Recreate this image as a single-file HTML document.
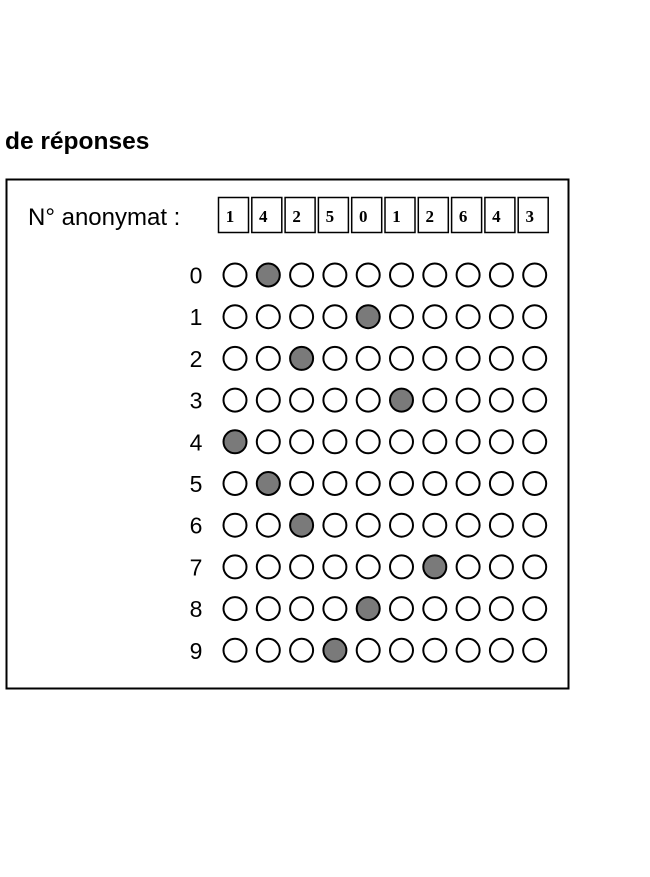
<!DOCTYPE html>
<html><head><meta charset="utf-8"><style>
html,body{margin:0;padding:0;background:#fff;width:650px;height:877px;overflow:hidden}
svg{display:block}
</style></head><body>
<svg id="sheet" width="650" height="877" xmlns="http://www.w3.org/2000/svg" font-family="Liberation Sans, sans-serif">
<text x="5" y="149" font-size="24.5" font-weight="bold" fill="#000">de réponses</text>
<rect x="6.5" y="179.5" width="562" height="509" fill="none" stroke="#000" stroke-width="2"/>
<text x="28" y="225" font-size="24" fill="#000">N° anonymat :</text>
<g id="boxes"></g>
<g id="grid"></g>
</svg>
<script>
const digits = [1,4,2,5,0,1,2,6,4,3];
const filledCols = [1,4,2,5,0,1,2,6,4,3];
const rowLabels = ['0','1','2','3','4','5','6','7','8','9'];
const NS='http://www.w3.org/2000/svg';
const colX = i => 235 + i*33.3;
const rowY = r => 275 + r*41.7;
const boxes=document.getElementById('boxes');
digits.forEach((d,i)=>{
  const r=document.createElementNS(NS,'rect');
  
  
  r.setAttribute('x',colX(i)-16.5);r.setAttribute('y',197.5);
  r.setAttribute('width',30);r.setAttribute('height',35);
  r.setAttribute('fill','none');r.setAttribute('stroke','#000');r.setAttribute('stroke-width','1.5');
  boxes.appendChild(r);
  const t=document.createElementNS(NS,'text');
  
  
  t.setAttribute('x',colX(i)-5);t.setAttribute('y',222);
  t.setAttribute('text-anchor','middle');t.setAttribute('font-size','17');t.setAttribute('font-weight','bold');
  t.setAttribute('font-family','Liberation Serif, serif');
  t.textContent=d;boxes.appendChild(t);
});
const grid=document.getElementById('grid');
rowLabels.forEach((lab,r)=>{
  const t=document.createElementNS(NS,'text');
  
  
  t.setAttribute('x',196);t.setAttribute('y',rowY(r)+8.5);
  t.setAttribute('text-anchor','middle');t.setAttribute('font-size','23');
  t.textContent=lab;grid.appendChild(t);
  for(let c=0;c<10;c++){
    const e=document.createElementNS(NS,'circle');
    const f=filledCols[r]===c;
    
    
    e.setAttribute('cx',colX(c));e.setAttribute('cy',rowY(r));e.setAttribute('r',11.5);
    e.setAttribute('fill',f?'#7a7a7a':'#fff');e.setAttribute('stroke','#000');e.setAttribute('stroke-width','2');
    grid.appendChild(e);
  }
});
</script>
</body></html>
